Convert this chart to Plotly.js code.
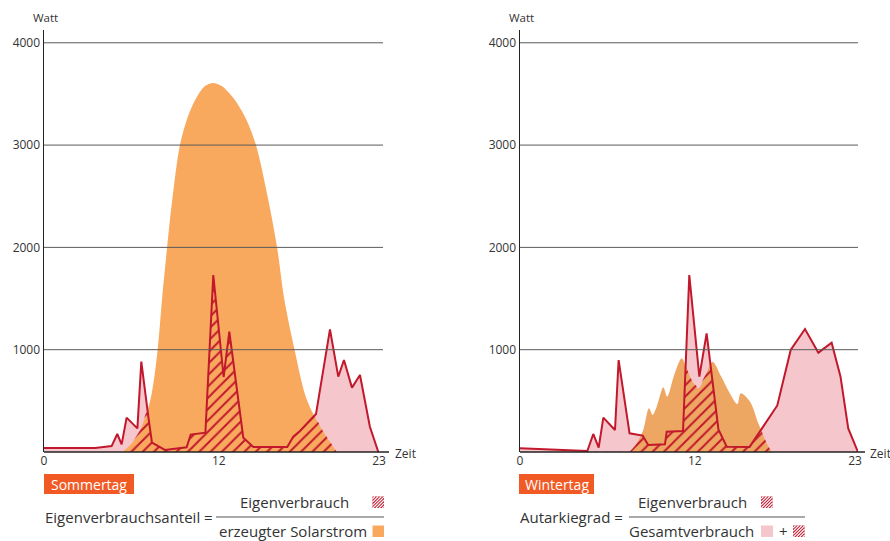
<!DOCTYPE html>
<html>
<head>
<meta charset="utf-8">
<script src="https://cdn.plot.ly/plotly-3.0.1.min.js"></script>
<style>html,body{margin:0;padding:0;background:#fff;}#chart{width:890px;height:541px;}</style>
</head>
<body>
<div id="chart"></div>
<script>
// ---------- data (hours, watts) ----------
const summerConsHours = [0, 3.5, 4.64, 5.03, 5.33, 5.67, 6.41, 6.68, 7.16, 7.41, 8.3, 9.33, 9.79, 10.07, 11.08, 11.62, 12.33, 12.72, 13.68, 14.37, 16.7, 17.11, 17.57, 18.67, 19.63, 20.2, 20.59, 21.14, 21.69, 22.37, 22.95];
const summerConsWatt  = [40, 40, 58, 176, 75, 336, 231, 883, 345, 91, 20, 36, 46, 170, 189, 1730, 733, 1176, 140, 50, 50, 150, 205, 371, 1199, 736, 899, 629, 753, 247, 0];

const summerSolarHours = [5.4, 6.0, 6.6, 7.3, 7.8, 8.1, 8.45, 8.8, 9.33, 9.8, 10.3, 10.7, 11.05, 11.6, 12.2, 12.77, 13.2, 13.9, 14.55, 15.4, 16.0, 16.5, 17.2, 18.05, 19.1, 20.1];
const summerSolarWatt  = [0, 80, 215, 508, 1000, 1490, 2000, 2460, 3000, 3245, 3420, 3519, 3578, 3607, 3578, 3500, 3421, 3245, 3000, 2460, 2000, 1490, 1000, 508, 215, 0];

const winterConsHours = [0, 4.62, 5.03, 5.4, 5.72, 6.52, 6.77, 7.52, 8.42, 8.8, 9.95, 10.07, 11.19, 11.62, 12.31, 12.81, 13.62, 14.19, 15.76, 17.66, 18.58, 19.56, 20.48, 21.39, 22.0, 22.53, 23.2];
const winterConsWatt  = [36, 10, 176, 42, 336, 215, 899, 183, 160, 68, 75, 199, 205, 1730, 736, 1160, 220, 52, 50, 455, 997, 1202, 971, 1069, 736, 231, 0];

const winterSolarHours = [7.5, 7.9, 8.46, 8.85, 9.1, 9.4, 9.84, 10.1, 10.6, 11.1, 11.4, 11.8, 12.24, 12.7, 13.22, 13.8, 14.41, 14.92, 15.15, 15.79, 16.36, 16.93, 17.27];
const winterSolarWatt  = [0, 60, 215, 427, 362, 450, 632, 541, 760, 916, 830, 700, 622, 740, 883, 740, 573, 469, 573, 492, 280, 85, 0];

const xTicks = [0, 12, 23];
const yTicks = [1000, 2000, 3000, 4000];

// ---------- styles ----------
const RED = '#c1182c', PINK = '#f5c6cb', ORANGE_S = '#f8a95e', ORANGE_W = '#eea762', LABEL = '#f15a24';
const FONT = 'Open Sans, Noto Sans, sans-serif';
const W = 890, H = 541;
const px = x => x / W, py = y => 1 - y / H;

// self consumption = min(consumption, solar), built from the arrays above
function lin(xs, ys, x) {
  if (x < xs[0] || x > xs[xs.length - 1]) return 0;
  for (let i = 0; i < xs.length - 1; i++) {
    if (x >= xs[i] && x <= xs[i + 1]) {
      const t = (x - xs[i]) / (xs[i + 1] - xs[i] || 1);
      return ys[i] + t * (ys[i + 1] - ys[i]);
    }
  }
  return ys[ys.length - 1];
}
function minSeries(ax, ay, bx, by) {
  let u = Array.from(new Set(ax.concat(bx))).sort((a, b) => a - b);
  const out = [];
  for (let i = 0; i < u.length; i++) {
    out.push(u[i]);
    if (i < u.length - 1) {
      const d0 = lin(ax, ay, u[i]) - lin(bx, by, u[i]);
      const d1 = lin(ax, ay, u[i + 1]) - lin(bx, by, u[i + 1]);
      if (d0 * d1 < 0) out.push(u[i] + (u[i + 1] - u[i]) * d0 / (d0 - d1));
    }
  }
  return { x: out, y: out.map(x => Math.min(lin(ax, ay, x), lin(bx, by, x))) };
}

function panel(cx, cy, sx, sy, orange, xa, ya) {
  const m = minSeries(cx, cy, sx, sy);
  return [
    { x: cx, y: cy, xaxis: xa, yaxis: ya, type: 'scatter', mode: 'lines', fill: 'tozeroy', fillcolor: PINK, line: { width: 0 }, hoverinfo: 'skip' },
    { x: sx, y: sy, xaxis: xa, yaxis: ya, type: 'scatter', mode: 'lines', fill: 'tozeroy', fillcolor: orange, line: { width: 0, shape: 'spline', smoothing: 0.9 }, hoverinfo: 'skip' },
    { x: m.x, y: m.y, xaxis: xa, yaxis: ya, type: 'scatter', mode: 'lines', fill: 'tozeroy', fillcolor: 'rgba(0,0,0,0)', line: { width: 0 },
      fillpattern: { shape: '/', fgcolor: RED, bgcolor: 'rgba(0,0,0,0)', size: 8, solidity: 0.25 }, hoverinfo: 'skip' },
    { x: cx, y: cy, xaxis: xa, yaxis: ya, type: 'scatter', mode: 'lines', line: { width: 2, color: RED }, hoverinfo: 'skip' }
  ];
}

const data = [].concat(
  panel(summerConsHours, summerConsWatt, summerSolarHours, summerSolarWatt, ORANGE_S, 'x', 'y'),
  panel(winterConsHours, winterConsWatt, winterSolarHours, winterSolarWatt, ORANGE_W, 'x2', 'y2')
);

const xBase = { tickvals: xTicks, showgrid: false, zeroline: false, showline: false, ticks: '', tickfont: { size: 12, color: '#333', family: FONT }, fixedrange: true };
const yBase = { range: [0, 4125], tickvals: yTicks, showgrid: false, zeroline: false, showline: true, linecolor: '#222', linewidth: 1.5, ticks: '', tickfont: { size: 12, color: '#333', family: FONT }, fixedrange: true };

const shapes = [];
const annotations = [];
function line(x0, y0, x1, y1, color, w) {
  shapes.push({ type: 'line', xref: 'paper', yref: 'paper', x0: px(x0), y0: py(y0), x1: px(x1), y1: py(y1), line: { color: color, width: w }, layer: 'above' });
}
function rect(x0, y0, x1, y1, color) {
  shapes.push({ type: 'rect', xref: 'paper', yref: 'paper', x0: px(x0), y0: py(y0), x1: px(x1), y1: py(y1), fillcolor: color, line: { width: 0 }, layer: 'above' });
}
function hatchIcon(x0, y0, s) {
  rect(x0, y0, x0 + s, y0 + s, RED);
  for (let t = 2.6; t < 2 * s; t += 3.1) {
    let a, b;
    if (t <= s) { a = [x0, y0 + t]; b = [x0 + t, y0]; }
    else { a = [x0 + t - s, y0 + s]; b = [x0 + s, y0 + t - s]; }
    line(a[0], a[1], b[0], b[1], '#ffffff', 1.1);
  }
}
function text(t, x, y, size, anchor, color) {
  annotations.push({ text: t, xref: 'paper', yref: 'paper', x: px(x), y: py(y), xanchor: anchor, yanchor: 'middle', showarrow: false, font: { family: FONT, size: size, color: color || '#333' } });
}

// gridlines above the fills
[['y', 44, 383], ['y2', 520, 858]].forEach(([ya, x0, x1]) => {
  yTicks.forEach(v => shapes.push({ type: 'line', xref: 'paper', yref: ya, x0: px(x0), x1: px(x1), y0: v, y1: v, line: { color: '#5a5a5a', width: 1 }, layer: 'above' }));
});
// baselines
line(44, 452, 389, 452, '#222', 1.5);
line(520, 452, 865, 452, '#222', 1.5);

// axis labels
text('Watt', 45, 18, 11.5, 'center');
text('Watt', 521, 18, 11.5, 'center');
text('Zeit', 393, 453, 12, 'left');
text('Zeit', 868, 453, 12, 'left');

// summer formula
rect(44, 474, 134, 494, LABEL);
text('Sommertag', 89, 484, 14, 'center', '#ffffff');
text('Eigenverbrauchsanteil =', 43, 517, 15, 'left');
text('Eigenverbrauch', 294, 502, 15, 'center');
hatchIcon(372.5, 496.5, 11.5);
line(216, 517, 384, 517, '#555', 1.2);
text('erzeugter Solarstrom', 293, 531, 15, 'center');
rect(372.5, 525.5, 384, 537, ORANGE_S);

// winter formula
rect(519, 474, 594, 494, LABEL);
text('Wintertag', 556.5, 484, 14, 'center', '#ffffff');
text('Autarkiegrad =', 518, 517, 15, 'left');
text('Eigenverbrauch', 692, 502, 15, 'center');
hatchIcon(761, 496.5, 11.5);
line(629, 517, 805, 517, '#555', 1.2);
text('Gesamtverbrauch', 691.5, 531, 15, 'center');
rect(761, 525.5, 773, 537, PINK);
text('+', 783.5, 531, 15, 'center');
hatchIcon(793, 525.5, 11.5);

const layout = {
  width: W, height: H, margin: { l: 0, r: 0, t: 0, b: 0 },
  paper_bgcolor: '#ffffff', plot_bgcolor: 'rgba(0,0,0,0)', showlegend: false,
  font: { family: FONT, color: '#333' },
  xaxis: Object.assign({}, xBase, { domain: [px(44), px(383)], range: [0, 23.27], anchor: 'y' }),
  yaxis: Object.assign({}, yBase, { domain: [py(452), py(30)], anchor: 'x' }),
  xaxis2: Object.assign({}, xBase, { domain: [px(520), px(858)], range: [0, 23.2], anchor: 'y2' }),
  yaxis2: Object.assign({}, yBase, { domain: [py(452), py(30)], anchor: 'x2' }),
  shapes: shapes, annotations: annotations
};

Plotly.newPlot('chart', data, layout, { displayModeBar: false, staticPlot: true });
</script>
</body>
</html>
